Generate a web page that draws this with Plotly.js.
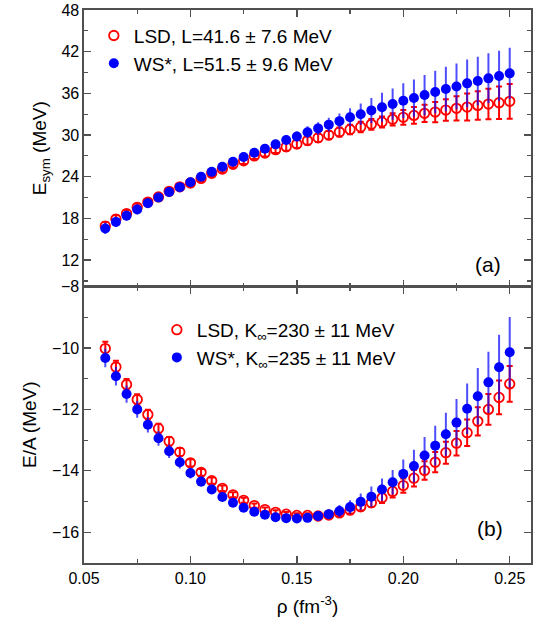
<!DOCTYPE html>
<html>
<head>
<meta charset="utf-8">
<script src="https://cdn.plot.ly/plotly-3.0.1.min.js"></script>
<style>html,body{margin:0;padding:0;background:#fff;}#chart{width:533px;height:632px;}</style>
</head>
<body>
<div id="chart"></div>
<script>
// density values (fm^-3)
const rho = [0.060,0.065,0.070,0.075,0.080,0.085,0.090,0.095,0.100,0.105,0.110,0.115,0.120,0.125,0.130,0.135,0.140,0.145,0.150,0.155,0.160,0.165,0.170,0.175,0.180,0.185,0.190,0.195,0.200,0.205,0.210,0.215,0.220,0.225,0.230,0.235,0.240,0.245,0.250];

// (a) symmetry energy
const esymLSD = [16.9,17.9,18.7,19.6,20.35,21.1,21.9,22.55,23.1,23.76,24.5,25.1,25.8,26.3,27.0,27.4,27.9,28.3,28.7,29.2,29.6,30.0,30.43,30.8,31.15,31.54,31.87,32.26,32.55,32.83,33.12,33.31,33.6,33.84,34.03,34.27,34.46,34.65,34.85];
const esymLSDerr = [0.6,0.55,0.5,0.5,0.48,0.46,0.45,0.45,0.45,0.45,0.45,0.45,0.45,0.45,0.46,0.5,0.5,0.55,0.55,0.6,0.6,0.6,0.65,0.67,0.75,0.78,0.8,0.88,1.05,1.2,1.25,1.45,1.55,1.75,1.95,2.05,2.2,2.35,2.5];
const esymWS = [16.56,17.5,18.4,19.3,20.2,21.0,21.8,22.5,23.2,24.0,24.7,25.44,26.16,26.83,27.45,28.03,28.66,29.28,29.8,30.4,30.96,31.5,32.0,32.55,33.0,33.55,34.0,34.46,34.94,35.33,35.76,36.19,36.62,37.0,37.44,37.78,38.16,38.5,38.88];
const esymWSerr = [0.8,0.75,0.7,0.7,0.65,0.6,0.55,0.5,0.5,0.5,0.5,0.5,0.5,0.5,0.5,0.55,0.6,0.65,0.7,0.85,0.9,1.0,1.1,1.3,1.55,1.8,2.1,2.25,2.5,2.68,2.9,3.05,3.2,3.3,3.45,3.5,3.6,3.65,3.7];

// (b) energy per nucleon
const eaLSD = [-10.02,-10.62,-11.19,-11.68,-12.17,-12.62,-13.04,-13.39,-13.74,-14.05,-14.32,-14.57,-14.78,-14.96,-15.13,-15.26,-15.35,-15.41,-15.45,-15.45,-15.47,-15.44,-15.37,-15.28,-15.17,-15.04,-14.88,-14.67,-14.48,-14.24,-13.99,-13.72,-13.41,-13.1,-12.76,-12.39,-12.0,-11.61,-11.17];
const eaLSDerr = [0.22,0.2,0.18,0.17,0.16,0.15,0.14,0.13,0.12,0.11,0.1,0.09,0.08,0.08,0.07,0.07,0.07,0.07,0.07,0.07,0.08,0.09,0.1,0.11,0.12,0.14,0.17,0.2,0.23,0.27,0.3,0.33,0.36,0.4,0.43,0.46,0.5,0.55,0.58];
const eaWS = [-10.33,-10.92,-11.5,-12.0,-12.5,-12.94,-13.36,-13.72,-14.07,-14.35,-14.61,-14.85,-15.04,-15.2,-15.33,-15.43,-15.51,-15.54,-15.55,-15.53,-15.47,-15.41,-15.31,-15.18,-15.01,-14.84,-14.61,-14.37,-14.1,-13.84,-13.5,-13.18,-12.81,-12.43,-11.98,-11.57,-11.12,-10.63,-10.14];
const eaWSerr = [0.3,0.3,0.28,0.27,0.25,0.24,0.22,0.2,0.18,0.16,0.14,0.12,0.1,0.09,0.08,0.07,0.07,0.07,0.08,0.09,0.11,0.15,0.2,0.22,0.27,0.33,0.36,0.4,0.47,0.53,0.6,0.65,0.7,0.77,0.82,0.92,1.0,1.06,1.15];

// labels
const legendTop = ['LSD, L=41.6 ± 7.6 MeV', 'WS*, L=51.5 ± 9.6 MeV'];
const legendBot = ['LSD, K<sub>∞</sub>=230 ± 11 MeV', 'WS*, K<sub>∞</sub>=235 ± 11 MeV'];

const RED = '#ff0000', BLUE = '#0000ff', BLUEBAR = 'rgba(10,10,255,0.72)';
const FONT = 'Liberation Sans, Arial, sans-serif';

function redTrace(y, err, name, xa, ya, leg) {
  return {x: rho, y: y, name: name, type: 'scatter', mode: 'markers', xaxis: xa, yaxis: ya, legend: leg,
    marker: {symbol: 'circle-open', size: 9.5, color: RED, line: {color: RED, width: 1.8}},
    error_y: {type: 'data', array: err, visible: true, color: RED, thickness: 2, width: 3}};
}
function blueTrace(y, err, name, xa, ya, leg) {
  return {x: rho, y: y, name: name, type: 'scatter', mode: 'markers', xaxis: xa, yaxis: ya, legend: leg,
    marker: {symbol: 'circle', size: 10, color: BLUE},
    error_y: {type: 'data', array: err, visible: true, color: BLUEBAR, thickness: 2, width: 0}};
}

const data = [
  redTrace(esymLSD, esymLSDerr, legendTop[0], 'x2', 'y2', 'legend'),
  blueTrace(esymWS, esymWSerr, legendTop[1], 'x2', 'y2', 'legend'),
  redTrace(eaLSD, eaLSDerr, legendBot[0], 'x', 'y', 'legend2'),
  blueTrace(eaWS, eaWSerr, legendBot[1], 'x', 'y', 'legend2')
];

const axCommon = {
  showgrid: false, zeroline: false, showline: true, linecolor: '#505050', linewidth: 1.6,
  ticks: 'inside', ticklen: 7, tickwidth: 1.3, tickcolor: '#505050', mirror: 'ticks',
  tickfont: {family: FONT, size: 16, color: '#000'}
};

const layout = {
  width: 533, height: 632,
  margin: {l: 84, r: 2, t: 10, b: 69},
  paper_bgcolor: '#fff', plot_bgcolor: '#fff',
  font: {family: FONT, color: '#000'},
  xaxis: Object.assign({}, axCommon, {
    anchor: 'y', domain: [0, 1], range: [0.05, 0.26], tick0: 0.05, dtick: 0.05, tickformat: '.2f',
    minor: {dtick: 0.025, tick0: 0.05, ticks: 'inside', ticklen: 4, tickwidth: 1.2, tickcolor: '#505050'},
    title: {text: 'ρ (fm<sup>-3</sup>)', font: {family: FONT, size: 19}, standoff: 14}
  }),
  xaxis2: Object.assign({}, axCommon, {
    anchor: 'y2', domain: [0, 1], matches: 'x', range: [0.05, 0.26], tick0: 0.05, dtick: 0.05, showticklabels: false,
    minor: {dtick: 0.025, tick0: 0.05, ticks: 'inside', ticklen: 4, tickwidth: 1.2, tickcolor: '#505050'}
  }),
  yaxis: Object.assign({}, axCommon, {
    anchor: 'x', domain: [0, 0.5], range: [-17, -8], tick0: -16, dtick: 2,
    minor: {dtick: 1, ticks: 'inside', ticklen: 4, tickwidth: 1.2, tickcolor: '#505050'},
    title: {text: 'E/A (MeV)', font: {family: FONT, size: 19}, standoff: 10}
  }),
  yaxis2: Object.assign({}, axCommon, {
    anchor: 'x2', domain: [0.5, 1], range: [8.2, 48], tick0: 12, dtick: 6,
    minor: {dtick: 3, ticks: 'inside', ticklen: 4, tickwidth: 1.2, tickcolor: '#505050'},
    title: {text: 'E<sub>sym</sub> (MeV)', font: {family: FONT, size: 19}, standoff: 10}
  }),
  showlegend: true,
  legend: {x: 0.022, y: 0.988, xanchor: 'left', yanchor: 'top', bgcolor: 'rgba(0,0,0,0)',
    font: {family: FONT, size: 19, color: '#000'}, itemwidth: 30, tracegroupgap: 0},
  legend2: {x: 0.163, y: 0.456, xanchor: 'left', yanchor: 'top', bgcolor: 'rgba(0,0,0,0)',
    font: {family: FONT, size: 19, color: '#000'}, itemwidth: 30, tracegroupgap: 0},
  annotations: [
    {text: '(a)', xref: 'paper', yref: 'paper', x: 0.937, y: 0.539, showarrow: false, font: {family: FONT, size: 21}},
    {text: '(b)', xref: 'paper', yref: 'paper', x: 0.942, y: 0.0385, showarrow: false, font: {family: FONT, size: 21}}
  ]
};

Plotly.newPlot('chart', data, layout, {displayModeBar: false, staticPlot: true});
</script>
</body>
</html>
